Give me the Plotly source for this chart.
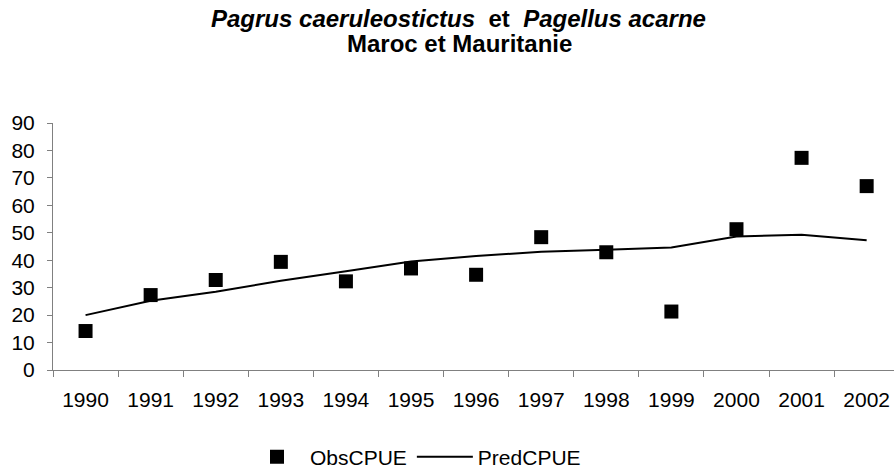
import plotly.graph_objects as go

years = ["1990", "1991", "1992", "1993", "1994", "1995", "1996",
         "1997", "1998", "1999", "2000", "2001", "2002"]
obs_cpue = [14.2, 27.3, 32.8, 39.4, 32.3, 37.0, 34.7, 48.4, 42.9, 21.3, 51.3, 77.3, 67.0]
pred_cpue = [20.0, 25.2, 28.5, 32.5, 36.0, 39.5, 41.5, 43.1, 43.8, 44.6, 48.6, 49.3, 47.3]
y_ticks = [0, 10, 20, 30, 40, 50, 60, 70, 80, 90]
title_line1 = "<i>Pagrus caeruleostictus</i>  et  <i>Pagellus acarne</i>"
title_line2 = "Maroc et Mauritanie"

FONT = "Liberation Sans, Arial, sans-serif"
W, H = 894, 472
L, R, T, B = 53, 0, 123, 102
plot_h = H - T - B
plot_w = W - L - R


def py(pix):
    return (H - B - pix) / plot_h


def px(pix):
    return (pix - L) / plot_w


fig = go.Figure()
fig.add_trace(go.Scatter(
    x=years, y=obs_cpue, name="ObsCPUE", mode="markers",
    marker=dict(symbol="square", size=14, color="black"),
))
fig.add_trace(go.Scatter(
    x=years, y=pred_cpue, name="PredCPUE", mode="lines",
    line=dict(color="black", width=2),
))

fig.update_layout(
    width=W, height=H,
    margin=dict(l=L, r=R, t=T, b=B, autoexpand=False),
    paper_bgcolor="white", plot_bgcolor="white",
    font=dict(family=FONT, size=20, color="black"),
    showlegend=True,
    legend=dict(
        orientation="h", x=px(244), xanchor="left", y=py(457), yanchor="middle",
        font=dict(family=FONT, size=21, color="black"),
        bgcolor="rgba(0,0,0,0)", itemwidth=56,
    ),
    annotations=[
        dict(text=title_line1, xref="paper", yref="paper", x=px(458), y=py(18),
             xanchor="center", yanchor="middle", showarrow=False,
             font=dict(family=FONT, size=24, color="black", weight="bold")),
        dict(text=title_line2, xref="paper", yref="paper", x=px(459), y=py(43),
             xanchor="center", yanchor="middle", showarrow=False,
             font=dict(family=FONT, size=24, color="black", weight="bold")),
    ],
)
fig.update_xaxes(
    type="category", categoryorder="array", categoryarray=years,
    range=[-0.5, 12.42], automargin=False,
    showgrid=False, showline=True, linecolor="#808080", linewidth=1,
    ticks="outside", tickson="boundaries", ticklen=6, tickcolor="#808080",
    tickfont=dict(family=FONT, size=21, color="black"),
    ticklabelstandoff=11,
    zeroline=False,
)
fig.update_yaxes(
    range=[0, 90], tickvals=y_ticks, automargin=False,
    showgrid=False, showline=True, linecolor="#808080", linewidth=1,
    ticks="outside", ticklen=5, tickcolor="#808080",
    tickfont=dict(family=FONT, size=21, color="black"),
    ticklabelstandoff=8,
    zeroline=False,
)

fig.write_html("out.html", config={"displayModeBar": False},
               post_script="document.body.style.margin='0';")
